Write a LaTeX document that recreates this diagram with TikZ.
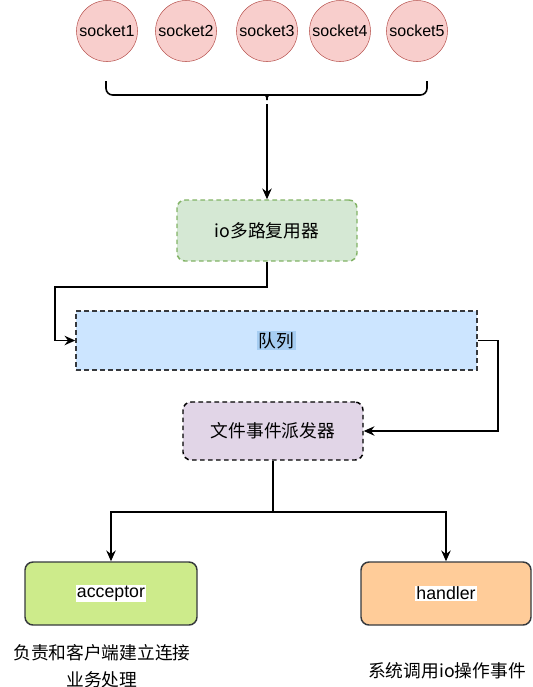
\documentclass[tikz,border=0pt]{standalone}
\usepackage{fontspec}
\setmainfont{Liberation Sans}
\newfontfamily\cjk{Noto Sans CJK SC}
\usetikzlibrary{arrows.meta}
\definecolor{sockfill}{HTML}{F8CECC}
\definecolor{sockline}{HTML}{B85450}
\definecolor{iofill}{HTML}{D5E8D4}
\definecolor{ioline}{HTML}{82B366}
\definecolor{queuefill}{HTML}{CCE5FF}
\definecolor{queuemark}{HTML}{A6CDF2}
\definecolor{dispfill}{HTML}{E1D5E7}
\definecolor{accfill}{HTML}{CDEB8B}
\definecolor{handfill}{HTML}{FFCC99}
\definecolor{boxline}{HTML}{36393D}
\setlength{\fboxsep}{1pt}
\tikzset{
  sock/.style={circle, draw=sockline, fill=sockfill, minimum size=45.75pt, inner sep=0pt, font=\fontsize{12}{14}\selectfont},
  box/.style={draw=boxline, line width=1.1pt, minimum width=#1, inner sep=0pt, font=\fontsize{13.3}{16}\selectfont},
  arr/.style={-{Stealth[length=8pt,width=7pt]}, line width=1.2pt},
}
\begin{document}
\begin{tikzpicture}[x=0.75pt, y=-0.75pt]
            \useasboundingbox (0,0) rectangle (533,687);

            \node[sock] (s1) at (107, 31) {socket1};
            \node[sock] (s2) at (186, 31) {socket2};
            \node[sock] (s3) at (267, 31) {socket3};
            \node[sock] (s4) at (340, 31) {socket4};
            \node[sock] (s5) at (417, 31) {socket5};

            % brace under the sockets
            \draw[line width=1.2pt, rounded corners=5pt] (106, 81) |- (260, 95)
                .. controls (265, 95) and (267, 98) .. (267, 104)
                .. controls (267, 98) and (269, 95) .. (274, 95) -| (427, 81);
            \coordinate (tip) at (267, 104);

            \node[box=135pt, draw=ioline, fill=iofill, dash pattern=on 3.5pt off 2.5pt, rounded corners=6pt, minimum height=45.75pt] (io) at (267, 230.5) {\cjk io多路复用器};
            \node[box=300.75pt, fill=queuefill, dash pattern=on 3.5pt off 2.5pt, minimum height=44.25pt] (queue) at (276.5, 340.5) {\colorbox{queuemark}{\cjk 队列}};
            \node[box=135pt, draw=black, fill=dispfill, dash pattern=on 3.5pt off 2.5pt, rounded corners=6pt, minimum height=43.5pt] (disp) at (273, 431) {\cjk 文件事件派发器};

            \node[box=129pt, fill=accfill, rounded corners=6pt, minimum height=47.25pt] (acc) at (111, 593.5) {\colorbox{white}{acceptor}};
            \node[box=127.5pt, fill=handfill, rounded corners=6pt, minimum height=47.25pt] (hand) at (446, 593.5) {\colorbox{white}{handler}};

            \node[align=center, font=\cjk\fontsize{13.3}{20}\selectfont] (acctext) at (102, 666) {负责和客户端建立连接\\业务处理};
            \node[font=\cjk\fontsize{13.3}{16}\selectfont] (handtext) at (447, 671) {系统调用io操作事件};

            \draw[arr] (tip) -- (io);
            \draw[arr] (io.south) -- ++(0, 25) -| ([xshift=-15pt]queue.west) -- (queue.west);
            \draw[arr] (queue.east) -- ++(20, 0) |- (disp.east);
            \draw[arr] (disp.south) -- ++(0, 51) -| (acc.north);
            \draw[arr] (disp.south) -- ++(0, 51) -| (hand.north);
        \end{tikzpicture}
\end{document}
